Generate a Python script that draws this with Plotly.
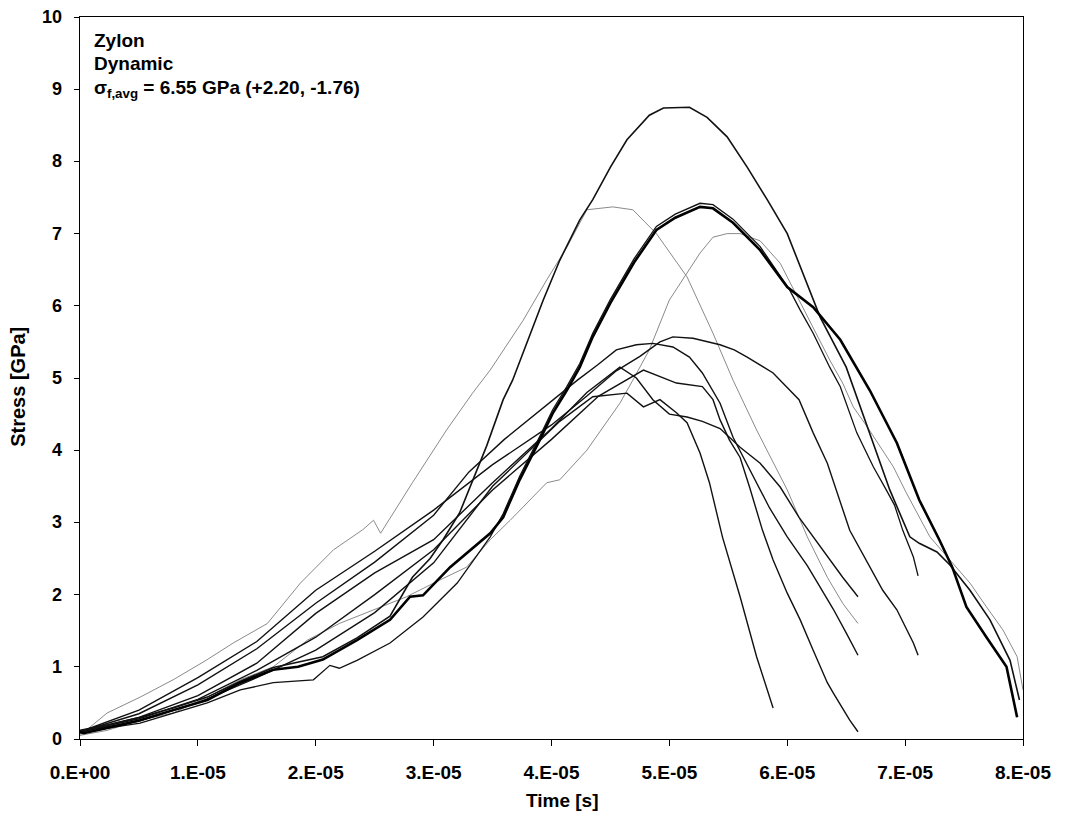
import plotly.graph_objects as go

# time values stored in units of 1e-5 s, stress in GPa
T_UNIT = 1e-5

c3_t = [0, 0.03, 0.25, 0.51, 0.79, 1.08, 1.36, 1.64, 1.85, 2.06, 2.35, 2.63, 2.8, 2.91, 3.14, 3.48, 3.59, 3.73, 3.9, 4.01, 4.13, 4.24, 4.35, 4.5, 4.7, 4.89, 5.05, 5.26, 5.37, 5.54, 5.77, 6.0, 6.22, 6.45, 6.7, 6.93, 7.12, 7.29, 7.4, 7.52, 7.69, 7.86, 7.95]
c3_s = [0.1, 0.08, 0.16, 0.26, 0.4, 0.54, 0.78, 0.96, 1.0, 1.1, 1.37, 1.65, 1.97, 1.99, 2.38, 2.85, 3.07, 3.59, 4.14, 4.51, 4.83, 5.15, 5.57, 6.04, 6.6, 7.05, 7.22, 7.37, 7.35, 7.15, 6.77, 6.26, 5.98, 5.53, 4.83, 4.1, 3.31, 2.76, 2.38, 1.83, 1.41, 1.0, 0.3]

c1_t = [0, 0.25, 0.51, 0.79, 1.08, 1.36, 1.64, 2.06, 2.35, 2.63, 2.82, 2.97, 3.08, 3.22, 3.45, 3.59, 3.67, 3.93, 4.07, 4.24, 4.35, 4.5, 4.64, 4.83, 4.95, 5.17, 5.32, 5.49, 5.66, 5.83, 6.0, 6.28, 6.5, 6.7, 6.87, 7.04, 7.12, 7.27, 7.38, 7.55, 7.72, 7.89, 7.97]
c1_s = [0.12, 0.2, 0.3, 0.43, 0.58, 0.8, 0.99, 1.14, 1.4, 1.7, 2.24, 2.5, 2.76, 3.13, 4.06, 4.7, 4.97, 6.08, 6.63, 7.19, 7.47, 7.92, 8.3, 8.64, 8.74, 8.75, 8.61, 8.34, 7.92, 7.47, 7.0, 5.84, 5.15, 4.24, 3.45, 2.8, 2.71, 2.59, 2.41, 2.06, 1.65, 1.09, 0.54]

c2_t = [0, 0.23, 0.51, 0.79, 1.07, 1.3, 1.59, 1.87, 2.15, 2.4, 2.49, 2.55, 2.82, 3.11, 3.33, 3.48, 3.76, 3.96, 4.13, 4.3, 4.52, 4.69, 4.89, 5.15, 5.37, 5.54, 5.74, 6.0, 6.17, 6.34, 6.47, 6.6]
c2_s = [0.05, 0.36, 0.58, 0.82, 1.09, 1.33, 1.6, 2.16, 2.62, 2.9, 3.03, 2.85, 3.55, 4.28, 4.79, 5.11, 5.8, 6.36, 6.81, 7.33, 7.37, 7.33, 7.0, 6.4, 5.62, 4.97, 4.28, 3.45, 2.8, 2.24, 1.88, 1.6]

c4_t = [0, 0.23, 0.51, 0.79, 1.08, 1.36, 1.64, 1.93, 2.2, 2.49, 2.77, 3.05, 3.28, 3.48, 3.65, 3.96, 4.07, 4.3, 4.58, 4.69, 4.83, 5.0, 5.15, 5.26, 5.37, 5.49, 5.6, 5.77, 5.94, 6.13, 6.22, 6.36, 6.47, 6.56, 6.68, 6.79, 6.9, 7.01, 7.21, 7.38, 7.55, 7.69, 7.83, 7.95, 8.0]
c4_s = [0.05, 0.12, 0.26, 0.36, 0.58, 0.82, 1.0, 1.37, 1.6, 1.79, 1.97, 2.2, 2.38, 2.76, 3.03, 3.55, 3.59, 4.0, 4.65, 4.97, 5.39, 6.08, 6.45, 6.73, 6.95, 7.0, 7.0, 6.9, 6.59, 5.98, 5.7, 5.25, 4.93, 4.6, 4.32, 4.04, 3.77, 3.41, 2.8, 2.48, 2.16, 1.83, 1.51, 1.14, 0.68]

c5_t = [0, 0.23, 0.51, 0.8, 1.08, 1.36, 1.64, 1.98, 2.12, 2.2, 2.35, 2.63, 2.91, 3.2, 3.48, 3.59, 3.73, 3.9, 4.01, 4.13, 4.24, 4.35, 4.5, 4.7, 4.89, 5.05, 5.26, 5.37, 5.54, 5.77, 5.9, 6.02, 6.11, 6.22, 6.36, 6.45, 6.59, 6.73, 6.84, 6.91, 6.98, 7.07, 7.11]
c5_s = [0.08, 0.15, 0.22, 0.36, 0.5, 0.68, 0.78, 0.82, 1.02, 0.98, 1.09, 1.33, 1.69, 2.16, 2.8, 3.12, 3.64, 4.19, 4.56, 4.88, 5.2, 5.62, 6.09, 6.65, 7.1, 7.27, 7.42, 7.4, 7.2, 6.82, 6.5, 6.22, 5.94, 5.62, 5.15, 4.88, 4.24, 3.77, 3.45, 3.24, 2.89, 2.52, 2.26]

la_t = [0, 0.5, 1.0, 1.5, 2.0, 2.5, 3.0, 3.3, 3.6, 3.9, 4.22, 4.39, 4.55, 4.72, 4.86, 5.03, 5.17, 5.28, 5.43, 5.54, 5.71, 5.85, 6.0, 6.17, 6.28, 6.39, 6.5, 6.6]
la_s = [0.1, 0.35, 0.75, 1.25, 1.88, 2.45, 3.1, 3.7, 4.15, 4.55, 4.97, 5.18, 5.39, 5.46, 5.48, 5.43, 5.29, 5.07, 4.65, 4.18, 3.63, 3.2, 2.8, 2.4, 2.1, 1.8, 1.47, 1.16]

lp_t = [0, 0.5, 1.0, 1.5, 2.0, 2.5, 3.0, 3.5, 4.0, 4.3, 4.55, 4.75, 4.92, 5.03, 5.2, 5.43, 5.55, 5.66, 5.88, 6.1, 6.22, 6.34, 6.53, 6.7, 6.81, 6.93, 7.07, 7.11]
lp_s = [0.1, 0.4, 0.85, 1.35, 2.06, 2.6, 3.17, 3.8, 4.35, 4.75, 5.1, 5.3, 5.5, 5.57, 5.55, 5.46, 5.39, 5.29, 5.07, 4.7, 4.24, 3.82, 2.89, 2.38, 2.06, 1.79, 1.33, 1.16]

lc_t = [0, 0.5, 1.0, 1.5, 2.0, 2.5, 3.0, 3.5, 4.0, 4.3, 4.58, 4.72, 4.86, 5.0, 5.15, 5.28, 5.43, 5.6, 5.77, 5.94, 6.1, 6.3, 6.47, 6.6]
lc_s = [0.1, 0.3, 0.6, 1.05, 1.74, 2.3, 2.76, 3.55, 4.3, 4.8, 5.15, 5.0, 4.7, 4.5, 4.46, 4.4, 4.3, 4.04, 3.82, 3.49, 3.07, 2.62, 2.24, 1.97]

ld_t = [0, 0.5, 1.0, 1.5, 2.0, 2.5, 3.0, 3.5, 4.0, 4.4, 4.78, 5.06, 5.28, 5.37, 5.43, 5.51, 5.6, 5.68, 5.79, 5.88, 6.0, 6.11, 6.22, 6.34, 6.39, 6.53, 6.6]
ld_s = [0.1, 0.28, 0.55, 0.95, 1.41, 2.0, 2.62, 3.45, 4.15, 4.75, 5.11, 4.93, 4.88, 4.7, 4.42, 4.14, 3.9, 3.49, 2.89, 2.48, 2.02, 1.65, 1.23, 0.78, 0.64, 0.26, 0.1]

le_t = [0, 0.5, 1.0, 1.5, 2.0, 2.5, 3.0, 3.5, 4.07, 4.35, 4.64, 4.78, 4.92, 5.06, 5.15, 5.2, 5.26, 5.34, 5.45, 5.6, 5.74, 5.88]
le_s = [0.1, 0.25, 0.5, 0.85, 1.23, 1.75, 2.44, 3.5, 4.4, 4.74, 4.79, 4.6, 4.7, 4.52, 4.38, 4.18, 3.96, 3.55, 2.8, 1.97, 1.14, 0.43]

x_tick_vals = [0, 1, 2, 3, 4, 5, 6, 7, 8]
x_tick_text = ["0.E+00", "1.E-05", "2.E-05", "3.E-05", "4.E-05", "5.E-05", "6.E-05", "7.E-05", "8.E-05"]
y_tick_vals = [0, 1, 2, 3, 4, 5, 6, 7, 8, 9, 10]
y_tick_text = ["0", "1", "2", "3", "4", "5", "6", "7", "8", "9", "10"]

x_title = "Time [s]"
y_title = "Stress [GPa]"
info_lines = ["Zylon", "Dynamic", "σ<sub>f,avg</sub> = 6.55 GPa (+2.20, -1.76)"]

FONT = "Liberation Sans, Arial, sans-serif"

curves = [
    (c4_t, c4_s, "#8a8a8a", 1.0),
    (c2_t, c2_s, "#8a8a8a", 1.0),
    (le_t, le_s, "#111111", 1.4),
    (ld_t, ld_s, "#111111", 1.4),
    (lc_t, lc_s, "#111111", 1.4),
    (la_t, la_s, "#111111", 1.4),
    (lp_t, lp_s, "#111111", 1.4),
    (c5_t, c5_s, "#111111", 1.3),
    (c1_t, c1_s, "#111111", 1.6),
    (c3_t, c3_s, "#000000", 2.6),
]

fig = go.Figure()
for t, s, col, w in curves:
    fig.add_trace(go.Scatter(
        x=[v * T_UNIT for v in t], y=s, mode="lines",
        line=dict(color=col, width=w), showlegend=False, hoverinfo="skip"))

fig.update_layout(
    width=1084, height=816,
    margin=dict(l=80, r=61, t=17, b=77),
    paper_bgcolor="white", plot_bgcolor="white",
    font=dict(family=FONT, color="black"),
    xaxis=dict(
        range=[0, 8 * T_UNIT],
        tickvals=[v * T_UNIT for v in x_tick_vals], ticktext=x_tick_text,
        ticks="outside", ticklen=6, tickcolor="black", tickwidth=1,
        ticklabelstandoff=10,
        showline=True, linecolor="black", linewidth=1, mirror=True,
        showgrid=False, zeroline=False,
        tickfont=dict(size=19, family=FONT, weight="bold"),
    ),
    yaxis=dict(
        range=[0, 10], tickvals=y_tick_vals,
        ticks="outside", ticklen=5, tickcolor="black", tickwidth=1,
        showticklabels=False,
        showline=True, linecolor="black", linewidth=1, mirror=True,
        showgrid=False, zeroline=False,
    ),
)

# y tick labels placed as text next to the axis
ytick_font = dict(size=18, family=FONT, weight="bold", color="black")
for v, txt in zip(y_tick_vals, y_tick_text):
    fig.add_annotation(xref="paper", yref="y", x=-0.017, y=v, xanchor="right", yanchor="middle",
                       text=txt, showarrow=False, font=ytick_font)

title_font = dict(size=19, family=FONT, weight="bold", color="black")
fig.add_annotation(xref="paper", yref="paper", x=0.512, y=-0.0845, xanchor="center", yanchor="middle",
                   text=x_title, showarrow=False, font=title_font)
fig.add_annotation(xref="paper", yref="paper", x=-0.066, y=0.4875, xanchor="center", yanchor="middle",
                   text=y_title, showarrow=False, textangle=-90, font=dict(size=20, family=FONT, weight="bold", color="black"))

ann_font = dict(size=19, family=FONT, weight="bold", color="black")
for txt, yp in zip(info_lines, [0.968, 0.936, 0.8996]):
    fig.add_annotation(xref="paper", yref="paper", x=0.013, y=yp, xanchor="left", yanchor="middle",
                       text=txt, showarrow=False, font=ann_font)

fig.write_html("out.html")
